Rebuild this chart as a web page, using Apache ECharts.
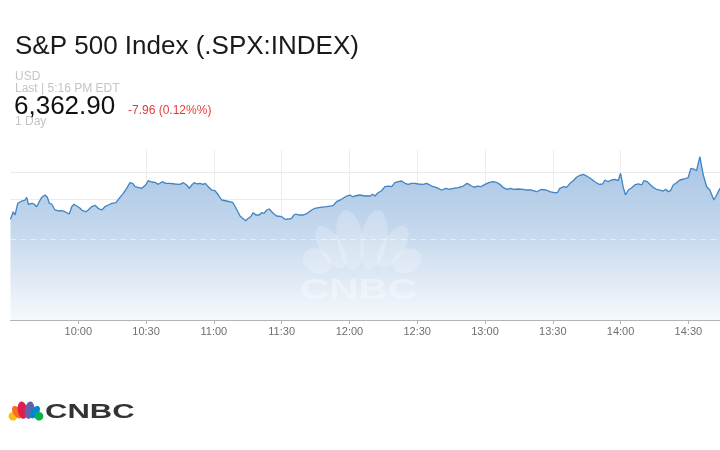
<!DOCTYPE html>
<html>
<head>
<meta charset="utf-8">
<script src="https://cdn.jsdelivr.net/npm/echarts@6/dist/echarts.min.js"></script>
<style>
html,body{margin:0;padding:0;background:#fff;}
#chart{width:720px;height:450px;}
</style>
</head>
<body>
<div id="chart"></div>
<script>
// ---- Data (minutes since midnight, index level) ----
var times = [570,571.2,572.0,573.2,573.9,575.0,575.7,576.4,577.2,577.9,579.4,580.4,581.6,582.7,583.8,585.3,586.3,587.2,588.2,589.7,
591.2,592.7,594.1,594.9,596.0,597.1,598.1,599.3,600.8,601.9,603.4,604.4,605.9,607.4,608.8,610.4,611.8,613.3,614.8,616.7,
618.1,619.9,621.4,622.9,624.1,625.1,626.5,628.1,628.8,629.8,631.0,632.5,633.9,635.4,637.2,638.7,640.6,642.8,645.0,646.5,
648.0,649.1,650.2,651.3,652.7,653.8,655.3,656.2,657.5,659.0,660.5,662.0,663.5,665.7,668.3,669.3,670.4,671.6,672.7,674.1,
675.2,676.3,677.4,678.6,680.1,681.1,682.2,683.4,684.5,685.6,686.6,687.8,690.0,691.5,692.9,694.4,695.4,696.3,697.8,699.6,
701.3,703.3,704.7,707.0,709.9,712.8,714.3,716.5,718.8,720.2,721.4,722.4,724.6,726.9,729.1,730.3,731.3,732.7,734.2,735.7,
737.2,738.7,740.1,741.6,743.1,744.6,746.0,747.5,749.0,750.4,752.7,754.2,756.4,758.6,760.8,762.7,764.2,765.9,768.1,770.4,
772.1,774.1,775.5,776.5,778.1,780.0,781.9,783.6,785.4,786.6,788.1,789.8,791.3,792.8,794.7,796.9,798.4,800.6,802.8,805.0,
807.0,808.7,810.5,812.0,813.1,814.9,816.1,817.6,819.0,820.5,822.0,823.5,825.0,827.2,828.6,830.5,832.0,833.1,834.5,836.0,
837.5,838.9,840.0,841.1,842.2,843.4,844.9,846.3,847.8,849.3,850.3,851.8,853.3,854.4,855.9,857.4,858.9,860.0,861.1,862.1,
863.3,864.8,866.2,868.0,869.9,871.1,872.4,873.6,875.1,876.6,878.1,879.5,881.3,882.5,884.0];

var prices = [6372.48,6375.30,6374.07,6378.41,6377.78,6379.26,6378.63,6379.63,6380.63,6378.04,6378.41,6378.15,6377.15,6379.00,6380.63,6381.48,6380.63,6378.41,6378.15,6375.93,
6375.56,6375.67,6375.30,6375.56,6374.44,6377.15,6378.04,6377.41,6376.56,6375.67,6375.30,6375.93,6377.15,6377.67,6376.56,6375.93,6377.15,6377.78,6378.41,6378.63,
6380.26,6382.11,6383.96,6386.04,6385.81,6384.56,6384.33,6383.96,6383.33,6385.19,6386.78,6386.30,6386.19,6385.44,6386.41,6385.81,6385.81,6385.56,6385.44,6386.04,
6385.19,6383.96,6385.19,6386.04,6385.56,6385.81,6385.44,6385.81,6384.56,6383.33,6383.07,6381.48,6379.63,6379.26,6378.78,6377.41,6375.67,6373.70,6372.85,6371.96,
6372.85,6373.44,6374.93,6374.07,6374.07,6374.93,6374.70,6375.93,6376.30,6375.30,6374.44,6373.70,6373.44,6372.48,6372.59,6372.85,6374.07,6374.44,6374.07,6374.07,
6374.70,6375.93,6376.56,6376.93,6377.15,6377.52,6379.00,6379.89,6381.11,6381.48,6380.85,6381.11,6381.48,6381.11,6381.11,6381.74,6381.11,6382.33,6383.07,6384.56,
6384.81,6384.56,6386.04,6386.41,6386.67,6385.81,6385.44,6385.81,6385.81,6385.56,6385.44,6385.81,6384.81,6384.19,6383.33,6383.96,6383.59,6383.96,6384.19,6384.81,
6385.81,6384.81,6384.33,6384.81,6384.56,6385.44,6386.19,6386.41,6386.04,6385.44,6384.19,6383.59,6383.96,6383.59,6383.70,6383.59,6383.33,6383.33,6382.70,6383.59,
6383.33,6382.70,6382.33,6382.33,6383.96,6384.56,6384.33,6385.81,6386.78,6388.04,6388.78,6389.15,6388.52,6387.30,6386.41,6385.44,6385.56,6387.04,6386.41,6387.04,
6387.30,6386.78,6389.52,6384.56,6381.48,6383.33,6384.19,6385.19,6385.56,6385.19,6386.78,6386.41,6385.19,6384.33,6383.59,6383.33,6382.96,6383.59,6382.70,6383.07,
6385.19,6386.04,6387.04,6387.41,6387.89,6391.37,6391.11,6390.48,6395.67,6388.89,6384.56,6383.33,6379.63,6381.48,6383.96];

var tickLabels = ['10:00','10:30','11:00','11:30','12:00','12:30','13:00','13:30','14:00','14:30'];
var axisStart = 570;      // 9:30
var axisEnd = 884;        // ~14:44
var yMin = 6335.19, yMax = 6398.15;
var refLevel = 6365.19;

var titleText = 'S&P 500 Index (.SPX:INDEX)';
var currencyText = 'USD';
var lastText = 'Last | 5:16 PM EDT';
var priceText = '6,362.90';
var changeText = '-7.96 (0.12%%)';
var rangeText = '1 Day';
var brandText = 'CNBC';

function toMin(s){ var p = s.split(':'); return (+p[0])*60 + (+p[1]); }
function fmt(v){ var h = Math.floor(v/60), m = Math.round(v - h*60); return h + ':' + (m < 10 ? '0' + m : m); }

var seriesData = times.map(function(t, i){ return [t, prices[i]]; });

function peacock(bx, by, s, colors, opacity, fat){
  var k = fat || 1;
  var f = [
    {dx:-45, dy:-13, rx:12, ry:15, rot:62},
    {dx:-31, dy:-27, rx:11, ry:24, rot:32},
    {dx:-12, dy:-34, rx:13, ry:30, rot:9},
    {dx:12, dy:-34, rx:13, ry:30, rot:-9},
    {dx:31, dy:-27, rx:11, ry:24, rot:-32},
    {dx:45, dy:-13, rx:12, ry:15, rot:-62}
  ];
  return f.map(function(o, i){
    return {
      type:'ellipse', x: bx + o.dx*s, y: by + o.dy*s, rotation: o.rot*Math.PI/180,
      shape:{cx:0, cy:0, rx:o.rx*s*k, ry:o.ry*s},
      style:{fill: colors[i], opacity: opacity}, silent:true
    };
  });
}

var font = '"Liberation Sans", Arial, Helvetica, sans-serif';
function txt(text, x, y, size, color, weight){
  return {type:'text', x:x, y:y, silent:true,
    style:{text:text, x:0, y:0, fill:color, font:(weight||'normal') + ' ' + size + 'px ' + font,
      align:'left', verticalAlign:'middle', textAlign:'left', textVerticalAlign:'middle'}};
}

var graphics = [];
graphics.push(txt(titleText, 15, 47, 26, '#1a1a1a'));
graphics.push(txt(currencyText, 15, 77, 12, '#c4c4c4'));
graphics.push(txt(lastText, 15, 89, 12, '#c4c4c4'));
graphics.push(txt(priceText, 14, 107, 26, '#111111'));
graphics.push(txt(changeText, 128, 111, 12, '#e23b3b'));
graphics.push(txt(rangeText, 15, 122, 12, '#c4c4c4'));
// watermark
var wm = peacock(362, 274, 1, ['#fff','#fff','#fff','#fff','#fff','#fff'], 0.22);
wm.forEach(function(e){ e.z = 100; graphics.push(e); });
var wmText = {type:'text', x:300, y:291, scaleX:1.35, z:100, silent:true,
  style:{text:brandText, x:0, y:0, fill:'rgba(255,255,255,0.33)', font:'bold 30px ' + font,
  align:'left', verticalAlign:'middle', textAlign:'left', textVerticalAlign:'middle'}};
graphics.push(wmText);
// bottom logo
peacock(26, 420, 0.29, ['#fdb913','#f37021','#e21d4b','#6460aa','#0089d0','#0db14b'], 1, 1.25).forEach(function(e){ graphics.push(e); });
graphics.push({type:'text', x:45, y:412, scaleX:1.55, silent:true,
  style:{text:brandText, x:0, y:0, fill:'#333333', font:'bold 20px ' + font,
  align:'left', verticalAlign:'middle', textAlign:'left', textVerticalAlign:'middle'}});

var chart = echarts.init(document.getElementById('chart'), null, {renderer:'canvas'});
chart.setOption({
  animation:false,
  backgroundColor:'#ffffff',
  grid:{left:10.5, right:0, top:150, bottom:130, containLabel:false},
  xAxis:{
    type:'value', min:axisStart, max:axisEnd, interval:30,
    axisLine:{show:true, lineStyle:{color:'#b4b4b4', width:1}},
    axisTick:{show:true, length:4, lineStyle:{color:'#b4b4b4'}, customValues: tickLabels.map(toMin)},
    axisLabel:{show:true, color:'#6f6f6f', fontSize:11, fontFamily:font, margin:6,
      customValues: tickLabels.map(toMin),
      formatter:function(v){ return fmt(v); }},
    splitLine:{show:true, showMinLine:false, showMaxLine:false, lineStyle:{color:'#ededed', width:1}}
  },
  yAxis:{
    type:'value', min:yMin, max:yMax, minInterval:10, maxInterval:10, scale:true,
    axisLine:{show:false}, axisTick:{show:false}, axisLabel:{show:false},
    splitLine:{show:true, showMinLine:false, showMaxLine:false, lineStyle:{color:'#ebebeb', width:1}}
  },
  graphic:{elements:graphics},
  series:[{
    type:'line', data:seriesData, showSymbol:false, symbol:'none', smooth:false,
    lineStyle:{color:'#3f84c3', width:1.3},
    areaStyle:{origin:'start', opacity:1, color:new echarts.graphic.LinearGradient(0,0,0,1,[
      {offset:0, color:'rgb(166,196,228)'},
      {offset:0.5, color:'rgb(200,218,238)'},
      {offset:1, color:'rgb(246,249,252)'}
    ])},
    markLine:{silent:true, symbol:'none', label:{show:false},
      lineStyle:{color:'rgba(255,255,255,0.5)', type:[6,4], width:1},
      data:[{yAxis:refLevel}]}
  }]
});
</script>
</body>
</html>
